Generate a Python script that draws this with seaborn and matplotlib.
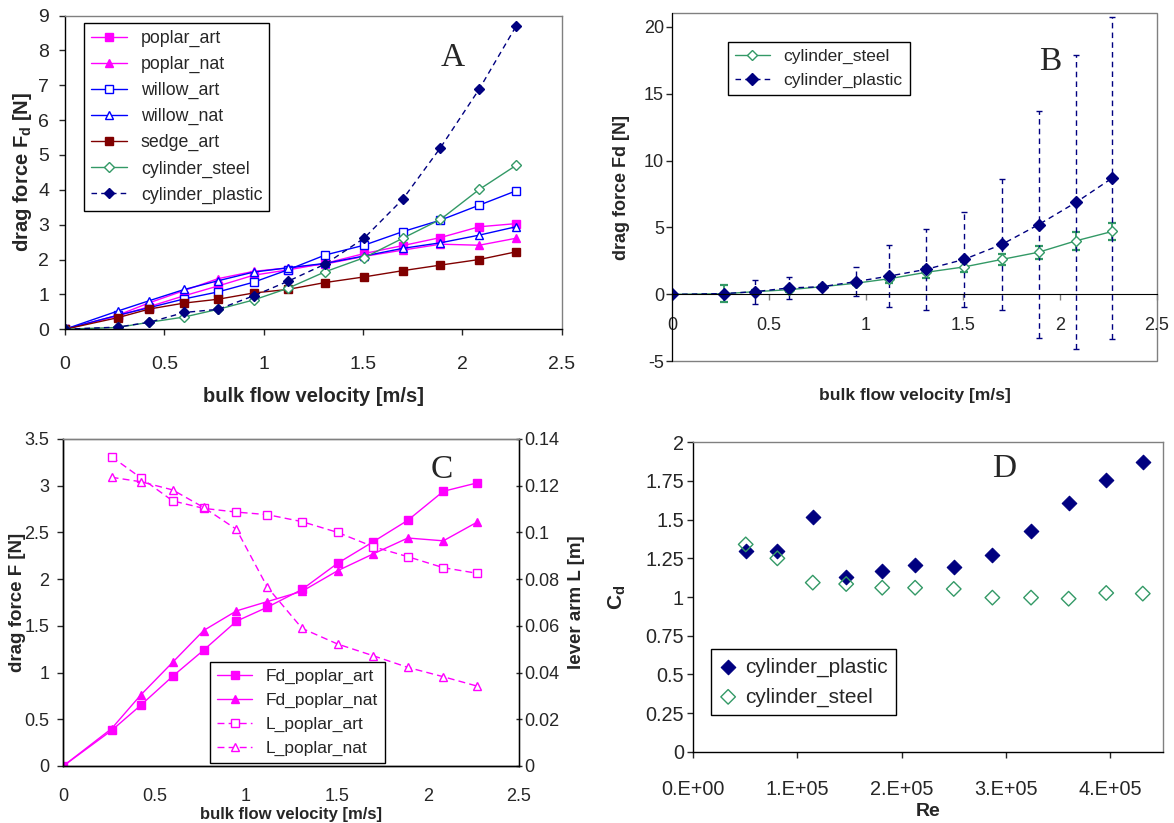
import numpy as np
import seaborn as sns
import matplotlib.pyplot as plt
from matplotlib.patches import Rectangle
from matplotlib.ticker import MultipleLocator, FuncFormatter

# ----------------------------------------
# Data
# ----------------------------------------

# bulk flow velocity [m/s], shared by panels A-C
velocity = [0, 0.265, 0.425, 0.60, 0.77, 0.95, 1.12, 1.31, 1.505, 1.70, 1.89, 2.085, 2.27]

# drag force [N]
poplar_art = [0, 0.38, 0.65, 0.96, 1.24, 1.55, 1.70, 1.89, 2.17, 2.40, 2.63, 2.94, 3.03]
poplar_nat = [0, 0.40, 0.76, 1.11, 1.45, 1.66, 1.76, 1.87, 2.09, 2.27, 2.44, 2.41, 2.61]
willow_art = [0, 0.40, 0.62, 0.87, 1.07, 1.35, 1.70, 2.13, 2.41, 2.80, 3.13, 3.56, 3.97]
willow_nat = [0, 0.52, 0.82, 1.14, 1.39, 1.64, 1.76, 1.89, 2.10, 2.32, 2.48, 2.70, 2.94]
sedge_art = [0, 0.33, 0.58, 0.75, 0.86, 1.04, 1.14, 1.34, 1.50, 1.68, 1.84, 2.00, 2.22]
cylinder_steel = [0, 0.05, 0.20, 0.35, 0.57, 0.84, 1.17, 1.65, 2.05, 2.61, 3.15, 4.01, 4.70]
cylinder_plastic = [0, 0.06, 0.20, 0.48, 0.57, 0.96, 1.37, 1.87, 2.61, 3.73, 5.21, 6.89, 8.69]

# spread of the cylinder runs (panel B)
steel_err = [0, 0.65, 0.10, 0.20, 0.10, 0.15, 0.30, 0.40, 0.40, 0.40, 0.50, 0.66, 0.62]
plastic_err = [0, 0.10, 0.90, 0.80, 0.10, 1.10, 2.30, 3.00, 3.55, 4.90, 8.50, 11.0, 12.05]

# lever arm [m] (panel C), no value at v = 0
lever_velocity = velocity[1:]
lever_poplar_art = [0.1324, 0.1234, 0.1135, 0.1103, 0.1087, 0.1076,
                    0.1046, 0.1000, 0.0939, 0.0896, 0.0849, 0.0825]
lever_poplar_nat = [0.1236, 0.1217, 0.1182, 0.1107, 0.1013, 0.0765,
                    0.0589, 0.0522, 0.0472, 0.0422, 0.0382, 0.0342]

# drag coefficient vs Reynolds number (panel D)
reynolds = [0.508e5, 0.811e5, 1.15e5, 1.47e5, 1.815e5, 2.13e5,
            2.50e5, 2.87e5, 3.24e5, 3.60e5, 3.96e5, 4.31e5]
cd_plastic = [1.295, 1.30, 1.515, 1.127, 1.168, 1.207, 1.196, 1.272, 1.427, 1.61, 1.754, 1.871]
cd_steel = [1.34, 1.25, 1.093, 1.084, 1.06, 1.06, 1.052, 0.996, 0.996, 0.989, 1.026, 1.022]

# ----------------------------------------
# Style
# ----------------------------------------

sns.set_style('ticks')
plt.rcParams['font.family'] = ['Liberation Sans', 'DejaVu Sans']
plt.rcParams['mathtext.fontset'] = 'custom'
plt.rcParams['mathtext.rm'] = 'Liberation Sans'
plt.rcParams['mathtext.bf'] = 'Liberation Sans:bold'
plt.rcParams['axes.unicode_minus'] = False

MAGENTA = '#FF00FF'
BLUE = '#0000FF'
MAROON = '#800000'
GREEN = '#339966'
NAVY = '#000080'
GREY = '#808080'
DASH = (0, (4, 3))

fmt_g = FuncFormatter(lambda v, pos: f'{v:g}')


def sci_label(v, pos):
    if v == 0:
        return '0.E+00'
    exp = int(np.floor(np.log10(abs(v))))
    return f'{v / 10 ** exp:.0f}.E+{exp:02d}'


def frame(ax):
    for side in ['top', 'right']:
        ax.spines[side].set_color(GREY)
    for side in ['left', 'bottom']:
        ax.spines[side].set_color('black')
    for sp in ax.spines.values():
        sp.set_linewidth(1)


def draw(ax, x, y, label, color, marker, hollow=False, ls='-', ms=6):
    sns.lineplot(x=x, y=y, ax=ax, color=color, lw=1, linestyle=ls,
                 marker=marker, markersize=ms,
                 markerfacecolor='white' if hollow else color,
                 markeredgecolor=color, markeredgewidth=1,
                 label=label, legend=False)


def box_legend(ax, fontsize, anchor, loc, handles=None, labels=None, **kw):
    if handles is None:
        handles, labels = ax.get_legend_handles_labels()
    leg = ax.legend(handles, labels, loc=loc, bbox_to_anchor=anchor,
                    borderaxespad=0, fontsize=fontsize, fancybox=False,
                    framealpha=1, edgecolor='black', **kw)
    leg.get_frame().set_linewidth(1)
    return leg


def letter(ax, x, y, text):
    ax.text(x, y, text, transform=ax.transAxes, ha='center', va='center',
            family=['Liberation Serif', 'DejaVu Serif'], fontsize=24)


fig = plt.figure(figsize=(11.74, 8.23), dpi=100)
ax_a = fig.add_axes([0.0554, 0.600, 0.423, 0.381])
ax_b = fig.add_axes([0.5727, 0.561, 0.4126, 0.4228])
ax_c = fig.add_axes([0.0539, 0.0693, 0.3882, 0.3973])
ax_d = fig.add_axes([0.590, 0.0866, 0.4003, 0.376])

# ----------------------------------------
# Panel A: drag force of all specimens
# ----------------------------------------

draw(ax_a, velocity, poplar_art, 'poplar_art', MAGENTA, 's')
draw(ax_a, velocity, poplar_nat, 'poplar_nat', MAGENTA, '^')
draw(ax_a, velocity, willow_art, 'willow_art', BLUE, 's', hollow=True)
draw(ax_a, velocity, willow_nat, 'willow_nat', BLUE, '^', hollow=True)
draw(ax_a, velocity, sedge_art, 'sedge_art', MAROON, 's')
draw(ax_a, velocity, cylinder_steel, 'cylinder_steel', GREEN, 'D', hollow=True, ms=5)
draw(ax_a, velocity, cylinder_plastic, 'cylinder_plastic', NAVY, 'D', ls=DASH, ms=5.5)

ax_a.set_xlim(0, 2.5)
ax_a.set_ylim(0, 9)
ax_a.xaxis.set_major_locator(MultipleLocator(0.5))
ax_a.yaxis.set_major_locator(MultipleLocator(1))
ax_a.xaxis.set_major_formatter(fmt_g)
ax_a.yaxis.set_major_formatter(fmt_g)
ax_a.tick_params(axis='x', direction='out', length=4.5, width=1, pad=15, labelsize=14)
ax_a.tick_params(axis='y', direction='out', length=4.5, width=1, pad=7, labelsize=14)
frame(ax_a)
ax_a.set_xlabel('bulk flow velocity [m/s]', fontsize=14.5, fontweight='bold', va='top')
ax_a.set_ylabel(r'drag force F$_\mathbf{d}$ [N]', fontsize=14.5, fontweight='bold')
ax_a.xaxis.set_label_coords(0.5, -0.185)
ax_a.yaxis.set_label_coords(-0.062, 0.5)
box_legend(ax_a, 12.8, (0.038, 0.977), 'upper left')
letter(ax_a, 0.781, 0.865, 'A')

# ----------------------------------------
# Panel B: cylinders with error bars
# ----------------------------------------

ax_b.errorbar(velocity, cylinder_steel, yerr=steel_err, fmt='none', ecolor=GREEN,
              elinewidth=1.3, capsize=3, capthick=1.6)
eb = ax_b.errorbar(velocity, cylinder_plastic, yerr=plastic_err, fmt='none', ecolor=NAVY,
                   elinewidth=1, capsize=2.5, capthick=1)
eb[2][0].set_linestyle(DASH)
draw(ax_b, velocity, cylinder_steel, 'cylinder_steel', GREEN, 'D', hollow=True, ms=5.5)
draw(ax_b, velocity, cylinder_plastic, 'cylinder_plastic', NAVY, 'D', ls=DASH, ms=6)

ax_b.set_xlim(0, 2.5)
ax_b.set_ylim(-5, 21)
ax_b.xaxis.set_major_locator(MultipleLocator(0.5))
ax_b.yaxis.set_major_locator(MultipleLocator(5))
ax_b.xaxis.set_major_formatter(fmt_g)
ax_b.yaxis.set_major_formatter(fmt_g)
ax_b.spines['bottom'].set_position(('data', 0))
ax_b.spines['bottom'].set_color('black')
ax_b.spines['left'].set_color('black')
ax_b.spines['top'].set_visible(False)
ax_b.spines['right'].set_visible(False)
ax_b.add_patch(Rectangle((0, 0), 1, 1, transform=ax_b.transAxes, fill=False,
                         edgecolor=GREY, lw=1, clip_on=False, zorder=0.5))
ax_b.tick_params(axis='x', direction='out', length=4.5, width=1, color=GREY, pad=11.5, labelsize=13)
ax_b.tick_params(axis='y', direction='out', length=4.5, width=1, pad=1.5, labelsize=13)
ax_b.set_xlabel('bulk flow velocity [m/s]', fontsize=12.5, fontweight='bold', va='top')
ax_b.set_ylabel('drag force Fd [N]', fontsize=13, fontweight='bold')
ax_b.xaxis.set_label_coords(0.5, -0.077)
ax_b.yaxis.set_label_coords(-0.087, 0.5)
box_legend(ax_b, 12.5, (0.115, 0.917), 'upper left')
letter(ax_b, 0.78, 0.861, 'B')

# ----------------------------------------
# Panel C: poplar drag force and lever arm
# ----------------------------------------

ax_c2 = ax_c.twinx()
draw(ax_c, velocity, poplar_art, 'Fd_poplar_art', MAGENTA, 's')
draw(ax_c, velocity, poplar_nat, 'Fd_poplar_nat', MAGENTA, '^')
draw(ax_c2, lever_velocity, lever_poplar_art, 'L_poplar_art', MAGENTA, 's',
     hollow=True, ls=(0, (5, 3)))
draw(ax_c2, lever_velocity, lever_poplar_nat, 'L_poplar_nat', MAGENTA, '^',
     hollow=True, ls=(0, (5, 3)))

ax_c.set_xlim(0, 2.5)
ax_c.set_ylim(0, 3.5)
ax_c2.set_ylim(0, 0.14)
ax_c.xaxis.set_major_locator(MultipleLocator(0.5))
ax_c.yaxis.set_major_locator(MultipleLocator(0.5))
ax_c2.yaxis.set_major_locator(MultipleLocator(0.02))
for axis in [ax_c.xaxis, ax_c.yaxis, ax_c2.yaxis]:
    axis.set_major_formatter(fmt_g)
frame(ax_c)
frame(ax_c2)
ax_c2.spines['right'].set_color('black')
ax_c.tick_params(axis='x', length=0, pad=16, labelsize=13)
ax_c.tick_params(axis='y', direction='out', length=4, width=1, pad=6, labelsize=13)
ax_c2.tick_params(axis='y', direction='inout', length=5, width=1, pad=1.5, labelsize=13)
ax_c.set_xlabel('bulk flow velocity [m/s]', fontsize=12, fontweight='bold', va='top')
ax_c.set_ylabel('drag force F [N]', fontsize=13.5, fontweight='bold')
ax_c2.set_ylabel('lever arm L [m]', fontsize=13.5, fontweight='bold')
ax_c.xaxis.set_label_coords(0.5, -0.124)
ax_c.yaxis.set_label_coords(-0.082, 0.5)
ax_c2.yaxis.set_label_coords(1.1075, 0.5)
h1, l1 = ax_c.get_legend_handles_labels()
h2, l2 = ax_c2.get_legend_handles_labels()
box_legend(ax_c2, 12.5, (0.323, 0.008), 'lower left', h1 + h2, l1 + l2)
letter(ax_c2, 0.83, 0.907, 'C')

# ----------------------------------------
# Panel D: drag coefficient vs Reynolds number
# ----------------------------------------

sns.scatterplot(x=reynolds, y=cd_plastic, ax=ax_d, marker='D', s=55, color=NAVY,
                edgecolor=NAVY, linewidth=0.8, label='cylinder_plastic', legend=False)
sns.scatterplot(x=reynolds, y=cd_steel, ax=ax_d, marker='D', s=55, color=GREEN,
                facecolor='none', edgecolor=GREEN, linewidth=1, label='cylinder_steel',
                legend=False)

ax_d.set_xlim(0, 4.5e5)
ax_d.set_ylim(0, 2)
ax_d.xaxis.set_major_locator(MultipleLocator(1e5))
ax_d.yaxis.set_major_locator(MultipleLocator(0.25))
ax_d.xaxis.set_major_formatter(FuncFormatter(sci_label))
ax_d.yaxis.set_major_formatter(fmt_g)
frame(ax_d)
ax_d.tick_params(axis='x', direction='out', length=4.5, width=1, pad=16, labelsize=14.3)
ax_d.tick_params(axis='y', direction='out', length=4.5, width=1, pad=1.7, labelsize=14.3)
ax_d.set_xlabel('Re', fontsize=14, fontweight='bold', va='top')
ax_d.set_ylabel(r'C$_\mathbf{d}$', fontsize=15, fontweight='bold')
ax_d.xaxis.set_label_coords(0.5, -0.167)
ax_d.yaxis.set_label_coords(-0.138, 0.5)
box_legend(ax_d, 15, (0.040, 0.119), 'lower left', handlelength=0.8, handletextpad=0.4)
letter(ax_d, 0.663, 0.913, 'D')

fig.savefig('out.png', dpi=100)
